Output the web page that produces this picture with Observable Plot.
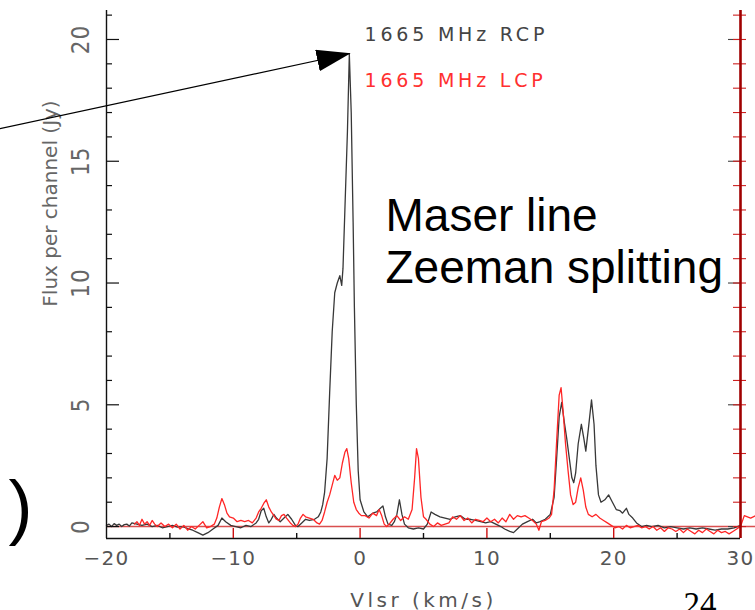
<!DOCTYPE html>
<html>
<head>
<meta charset="utf-8">
<script src="https://cdn.jsdelivr.net/npm/d3@7"></script>
<script src="https://cdn.jsdelivr.net/npm/@observablehq/plot@0.6"></script>
<style>
html, body { margin: 0; padding: 0; background: #fff; }
#chart svg { display: block; }
</style>
</head>
<body>
<div id="chart"></div>
<script>
// ---- data (velocity in km/s, flux in Jy) ----
const rcpVelocity = [
  -20.0,-19.8,-19.6,-19.4,-19.2,-19.0,-18.8,-18.6,-18.4,-18.2,-18.0,-17.6,-17.2,-16.8,-16.4,-16.0,
  -15.6,-15.2,-14.8,-14.4,-14.0,-13.6,-13.2,-12.8,-12.4,-12.0,-11.6,-11.2,-10.9,-10.6,-10.2,-9.8,
  -9.4,-9.0,-8.6,-8.2,-8.0,-7.8,-7.6,-7.4,-7.2,-7.0,-6.8,-6.6,-6.3,-6.0,-5.7,-5.4,-5.1,-4.9,-4.6,
  -4.3,-4.0,-3.6,-3.3,-3.1,-2.95,-2.8,-2.6,-2.4,-2.2,-2.0,-1.8,-1.6,-1.45,-1.35,-1.2,-1.0,-0.85,
  -0.7,-0.55,-0.45,-0.3,-0.15,0.0,0.3,0.6,1.0,1.3,1.6,1.8,2.0,2.2,2.5,2.7,2.9,3.1,3.3,3.5,3.8,
  4.2,4.6,5.0,5.3,5.6,5.9,6.3,6.7,7.1,7.5,7.9,8.3,8.7,9.1,9.5,9.9,10.3,10.7,11.1,11.4,11.8,12.1,
  12.4,12.8,13.2,13.6,13.9,14.2,14.6,15.0,15.3,15.5,15.7,15.9,16.1,16.3,16.5,16.7,16.85,17.0,17.2,
  17.45,17.65,17.8,18.0,18.25,18.45,18.6,18.8,19.0,19.3,19.6,19.9,20.2,20.5,20.7,21.0,21.2,21.5,
  21.8,22.2,22.6,23.0,23.5,24.0,24.5,25.0,25.5,26.0,26.5,27.0,27.5,28.0,28.5,29.0,29.5,30.0
];
const rcpFlux = [
  0.05,0.1,0.0,0.12,0.05,0.1,0.0,0.08,0.1,0.02,0.15,0.1,0.05,0.1,0.0,0.05,
  -0.05,0.0,0.05,-0.02,0.0,-0.08,-0.15,-0.25,-0.35,-0.25,-0.1,0.05,0.35,0.2,0.05,0.0,
  -0.05,0.05,0.0,0.15,0.3,0.65,0.75,0.4,0.15,0.3,0.5,0.35,0.2,0.35,0.5,0.3,0.05,0.0,0.15,
  0.3,0.25,0.3,0.4,0.6,0.9,1.4,2.8,5.5,8.0,9.6,10.0,10.3,9.9,10.6,13.0,16.2,19.4,
  17.0,12.5,9.0,5.0,2.3,1.1,0.6,0.4,0.55,0.6,0.75,0.85,0.4,0.1,0.05,0.2,0.5,1.1,0.5,0.1,-0.05,
  -0.1,-0.05,-0.1,0.1,0.6,0.5,0.4,0.35,0.3,0.4,0.45,0.3,0.3,0.25,0.2,0.15,0.2,0.1,0.0,-0.1,-0.2,-0.25,
  -0.1,0.1,0.2,0.3,0.15,0.2,0.3,0.5,1.2,2.8,4.5,5.1,4.3,3.6,2.8,2.0,1.8,2.2,3.4,
  4.2,3.6,3.1,4.0,5.2,4.2,2.5,1.3,1.0,1.1,1.3,1.0,0.7,0.65,0.55,0.75,0.5,0.35,
  0.15,0.0,0.05,0.0,0.05,-0.05,0.0,-0.05,-0.1,-0.05,-0.1,-0.05,-0.1,-0.15,-0.1,-0.1,-0.05,0.05
];
const lcpVelocity = [
  -17.8,-17.6,-17.4,-17.2,-17.0,-16.8,-16.6,-16.4,-16.2,-16.0,-15.7,-15.4,-15.1,-14.8,-14.5,-14.2,
  -13.9,-13.6,-13.3,-13.0,-12.7,-12.4,-12.1,-11.8,-11.5,-11.3,-11.1,-10.9,-10.7,-10.5,-10.3,-10.0,
  -9.7,-9.4,-9.1,-8.8,-8.5,-8.2,-8.0,-7.8,-7.6,-7.4,-7.2,-7.0,-6.8,-6.6,-6.4,-6.2,-6.0,-5.8,-5.5,
  -5.3,-5.1,-4.9,-4.7,-4.5,-4.3,-4.0,-3.7,-3.4,-3.2,-3.0,-2.8,-2.6,-2.4,-2.2,-2.0,-1.8,-1.6,-1.4,
  -1.2,-1.05,-0.9,-0.7,-0.5,-0.3,-0.1,0.1,0.4,0.7,1.0,1.3,1.5,1.7,1.9,2.1,2.3,2.6,2.9,3.2,3.5,3.8,
  4.1,4.3,4.45,4.6,4.8,5.0,5.2,5.5,5.8,6.1,6.4,6.7,7.0,7.3,7.6,7.9,8.2,8.5,8.8,9.1,9.4,9.7,10.0,
  10.3,10.6,10.9,11.2,11.5,11.8,12.1,12.4,12.7,13.0,13.3,13.6,13.9,14.1,14.3,14.6,14.9,15.1,15.3,
  15.5,15.7,15.85,16.0,16.2,16.4,16.6,16.8,17.0,17.2,17.4,17.6,17.8,18.0,18.3,18.6,18.9,19.2,19.5,
  19.8,20.1,20.4,20.7,21.0,21.3,21.6,21.9,22.2,22.5,22.8,23.1,23.4,23.7,24.0,24.3,24.6,24.9,25.2,
  25.5,25.8,26.1,26.4,26.7,27.0,27.3,27.6,27.9,28.2,28.5,28.8,29.1,29.4,29.7,30.0,30.3,30.8,31.2
];
const lcpFlux = [
  0.1,0.2,0.05,0.3,0.1,0.2,0.05,0.25,0.1,0.0,0.15,0.0,0.1,-0.05,0.1,-0.1,
  0.05,-0.15,0.0,-0.1,0.05,0.2,-0.05,0.0,0.1,0.35,0.8,1.15,0.9,0.55,0.4,0.35,
  0.2,0.25,0.2,0.25,0.15,0.35,0.6,0.75,0.95,1.1,0.8,0.6,0.45,0.3,0.25,0.45,0.5,0.35,0.15,
  0.05,0.0,0.1,0.35,0.5,0.4,0.35,0.3,0.15,0.1,0.25,0.6,1.0,1.3,1.7,2.1,1.9,2.0,2.6,
  3.05,3.2,2.8,1.8,1.0,0.7,0.55,0.45,0.45,0.35,0.55,0.45,0.7,0.45,0.1,0.0,0.1,0.3,0.45,0.25,0.4,0.3,
  0.7,2.0,3.2,2.8,1.2,0.4,0.3,0.1,0.0,0.15,0.05,0.1,0.15,0.4,0.3,0.45,0.25,0.35,0.15,0.3,0.25,0.2,0.35,
  0.2,0.3,0.15,0.35,0.2,0.5,0.3,0.45,0.4,0.45,0.35,0.25,0.1,-0.15,0.2,0.25,0.35,0.5,1.5,
  3.5,5.4,5.7,4.8,3.4,2.3,1.3,0.9,1.0,1.6,2.0,1.5,0.8,0.5,0.4,0.5,0.35,0.25,0.15,
  0.05,-0.05,0.0,-0.1,0.05,-0.05,0.0,0.05,-0.05,0.0,-0.1,0.0,-0.15,-0.05,-0.2,-0.05,-0.1,-0.2,-0.1,
  -0.25,-0.1,-0.2,-0.3,-0.15,-0.25,-0.1,-0.2,-0.3,-0.15,-0.25,-0.2,-0.3,-0.2,-0.1,0.0,0.45,0.35,0.45
];

// axis ticks and labels
const xTickValues = [-20, -10, 0, 10, 20, 30];
const xTickLabels = ["\u221220", "\u221210", "0", "10", "20", "30"];
const xMinorTickValues = [-15, -5, 5, 15, 25];
const yTickValues = [0, 5, 10, 15, 20];
const yTickLabels = ["0", "5", "10", "15", "20"];
const yMinorTickValues = [1, 2, 3, 4, 6, 7, 8, 9, 11, 12, 13, 14, 16, 17, 18, 19, 21];
const rightTickValues = [0, 1, 2, 3, 4, 5, 6, 7, 8, 9, 10, 11, 12, 13, 14, 15, 16, 17, 18, 19, 20, 21];
const seriesNames = ["1665 MHz RCP", "1665 MHz LCP"];
const xTitle = "Vlsr (km/s)";
const yTitle = "Flux per channel (Jy)";
const noteLines = ["Maser line", "Zeeman splitting"];
const pageNumber = "24";
const slideParen = ")";

// ---- tables for Plot ----
const rcp = rcpVelocity.map((v, i) => ({v, f: rcpFlux[i]}));
const lcp = lcpVelocity.map((v, i) => ({v, f: lcpFlux[i]}));

// ---- layout ----
const W = 755, H = 610, mL = 106, mR = 15, mT = 10, mB = 72;
const xDom = [-20, 30], yDom = [-0.49, 21.19];
const fw = W - mL - mR, fh = H - mT - mB;
const px2x = p => xDom[0] + (p - mL) / fw * (xDom[1] - xDom[0]);
const py2y = p => yDom[1] - (p - mT) / fh * (yDom[1] - yDom[0]);
const dxu = p => p / fw * (xDom[1] - xDom[0]);
const dyu = p => p / fh * (yDom[1] - yDom[0]);

const pg = "DejaVu Sans, sans-serif";

const plot = Plot.plot({
  width: W, height: H,
  marginLeft: mL, marginRight: mR, marginTop: mT, marginBottom: mB,
  x: {domain: xDom, axis: null},
  y: {domain: yDom, axis: null},
  style: {background: "#fff", overflow: "visible"},
  marks: [
    // zero baseline
    Plot.ruleY([0], {x1: xDom[0], x2: px2x(W), stroke: "#d23030", strokeWidth: 1.6, strokeOpacity: 0.85}),
    // spectra
    Plot.line(rcp, {x: "v", y: "f", stroke: "#383838", strokeWidth: 1.3}),
    Plot.line(lcp, {x: "v", y: "f", stroke: "#ff2626", strokeWidth: 1.3}),
    // left axis + ticks
    Plot.ruleX([xDom[0]], {stroke: "#111", strokeWidth: 1.4}),
    Plot.ruleY(yTickValues, {y: d => d, x1: xDom[0], x2: xDom[0] + dxu(13), stroke: "#111", strokeWidth: 1.2}),
    Plot.ruleY(yMinorTickValues, {y: d => d, x1: xDom[0], x2: xDom[0] + dxu(6), stroke: "#111", strokeWidth: 1.2}),
    // bottom axis + ticks
    Plot.ruleY([yDom[0]], {x1: xDom[0], x2: xDom[1], stroke: "#111", strokeWidth: 1.4}),
    Plot.ruleX(xTickValues.slice(1, -1), {x: d => d, y1: yDom[0], y2: yDom[0] + dyu(10), stroke: "#cc1010", strokeWidth: 1.4}),
    Plot.ruleX(xMinorTickValues, {x: d => d, y1: yDom[0], y2: yDom[0] + dyu(5), stroke: "#111", strokeWidth: 1.4}),
    // right axis + ticks
    Plot.ruleY(yTickValues, {y: d => d, x1: xDom[1] - dxu(12), x2: xDom[1], stroke: "#444", strokeWidth: 1.1}),
    Plot.ruleY(rightTickValues, {y: d => d, x1: xDom[1] - dxu(7), x2: xDom[1] + dxu(6), stroke: "#cc2020", strokeWidth: 1.1}),
    Plot.ruleX([xDom[1]], {stroke: "#a00000", strokeWidth: 2.6}),
    // tick labels
    Plot.text(yTickValues, {x: px2x(88), y: d => d, text: (d, i) => yTickLabels[i], rotate: -90,
      textAnchor: "middle", lineAnchor: "bottom", fontSize: 24,
      fontFamily: "Liberation Sans Narrow, DejaVu Sans Condensed, DejaVu Sans, sans-serif",
      fill: "#666"}),
    Plot.text(xTickValues, {x: d => d, y: py2y(564), text: (d, i) => xTickLabels[i],
      textAnchor: "middle", lineAnchor: "bottom", fontSize: 20, fontFamily: pg, fill: "#555"}),
    // axis titles
    Plot.text([xTitle], {x: px2x(423), y: py2y(606), text: d => d, textAnchor: "middle",
      lineAnchor: "bottom", fontSize: 20, fontFamily: pg, fill: "#555"}),
    Plot.text([yTitle], {x: px2x(56), y: py2y(203), text: d => d, rotate: -90, textAnchor: "middle",
      lineAnchor: "bottom", fontSize: 20, fontFamily: pg, fill: "#666"}),
    // series labels
    Plot.text([seriesNames[0]], {x: px2x(364), y: py2y(40), text: d => d, textAnchor: "start",
      lineAnchor: "bottom", fontSize: 19, fontFamily: pg, fill: "#444"}),
    Plot.text([seriesNames[1]], {x: px2x(364), y: py2y(86), text: d => d, textAnchor: "start",
      lineAnchor: "bottom", fontSize: 19, fontFamily: pg, fill: "#ff3030"}),
    // slide annotations
    Plot.text([noteLines[0]], {x: px2x(385), y: py2y(230), text: d => d, textAnchor: "start",
      lineAnchor: "bottom", fontSize: 46, fontFamily: "Liberation Sans, Arial, sans-serif", fill: "#000"}),
    Plot.text([noteLines[1]], {x: px2x(385), y: py2y(282), text: d => d, textAnchor: "start",
      lineAnchor: "bottom", fontSize: 46, fontFamily: "Liberation Sans, Arial, sans-serif", fill: "#000"}),
    Plot.text([slideParen], {x: px2x(8), y: py2y(530), text: d => d, textAnchor: "start",
      lineAnchor: "bottom", fontSize: 72, fontFamily: "Liberation Sans, Arial, sans-serif", fill: "#000"}),
    Plot.text([pageNumber], {x: px2x(683), y: py2y(614), text: d => d, textAnchor: "start",
      lineAnchor: "bottom", fontSize: 33, fontFamily: "Liberation Serif, Times New Roman, serif", fill: "#000"}),
    // arrow pointing to the RCP peak
    Plot.link([{x1: px2x(-5), y1: py2y(129.1), x2: -0.82, y2: py2y(53)}],
      {x1: "x1", y1: "y1", x2: "x2", y2: "y2", stroke: "#000", strokeWidth: 1.2})
  ]
});

// ---- presentation tweaks (PGPLOT-style wide lettering, filled arrow head) ----
const svg = d3.select(plot);
function spaceTexts(labels, spacing, rotated) {
  svg.selectAll("text").filter(function () {
    const isRot = (this.getAttribute("transform") || "").includes("rotate");
    return labels.includes(this.textContent) && isRot === rotated;
  }).style("letter-spacing", spacing);
}
spaceTexts(seriesNames, "3.8px", false);
spaceTexts(xTickLabels, "1.2px", false);
spaceTexts([xTitle], "3.5px", false);
spaceTexts(yTickLabels, "1px", true);

const defs = svg.insert("defs", ":first-child");
defs.append("marker")
  .attr("id", "arrowhead")
  .attr("viewBox", "0 0 34 22")
  .attr("refX", 33).attr("refY", 11)
  .attr("markerWidth", 34).attr("markerHeight", 22)
  .attr("markerUnits", "userSpaceOnUse")
  .attr("orient", "auto")
  .append("path").attr("d", "M0,0L34,11L0,22Z").attr("fill", "#000");
svg.selectAll('g[aria-label="link"] path, g[aria-label="link"] line').attr("marker-end", "url(#arrowhead)");

document.getElementById("chart").append(plot);
</script>
</body>
</html>
